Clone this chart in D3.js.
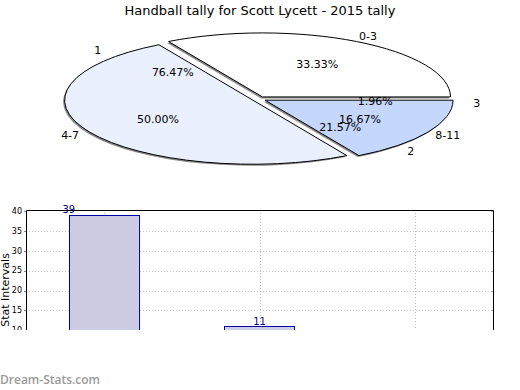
<!DOCTYPE html>
<html>
<head>
<meta charset="utf-8">
<script src="https://cdn.jsdelivr.net/npm/d3@7"></script>
<style>
  body { margin: 0; background: #fff; }
  svg { display: block; font-family: 'DejaVu Sans', sans-serif; }
</style>
</head>
<body>
<div id="graf"></div>
<script>
// datos
titulo = 'Handball tally for Scott Lycett - 2015 tally'
grupos = ['0-3', '4-7', '8-11']
gruposPct = [33.33, 50.00, 16.67]
gruposColor = ['#ffffff', '#eaf0fd', '#c5d7fc']
partidos = ['1', '2', '3']
partidosPct = [76.47, 21.57, 1.96]
barrasCat = ['1', '2', '3']
barrasVal = [39, 11, 1]
yTicks = [10, 15, 20, 25, 30, 35, 40]

ancho_total = 520
alto_total = 390

svg = d3.select('#graf').append('svg')
        .attr('width', ancho_total)
        .attr('height', alto_total)

svg.append('text')
   .attr('x', 260)
   .attr('y', 15)
   .attr('text-anchor', 'middle')
   .style('font-size', '13px')
   .text(titulo)

// I. Pastel
cx = 259, cy = 99, rx = 188, ry = 64

pie = d3.pie().sort(null)
        .startAngle(Math.PI / 2)
        .endAngle(Math.PI / 2 - 2 * Math.PI)

arco = d3.arc().innerRadius(0).outerRadius(rx)

function pos(ang, r) {
  return [cx + rx * r * Math.sin(ang), cy - ry * r * Math.cos(ang)]
}

rebanadas = pie(gruposPct)
rebanadas.forEach(d => {
  d.mid = (d.startAngle + d.endAngle) / 2
  e = 7
  d.dx = e * Math.sin(d.mid)
  d.dy = -e * Math.cos(d.mid) * ry / rx
})

gPie = svg.append('g')

// sombra
gPie.selectAll('path.sombra')
    .data(rebanadas)
    .enter().append('path')
      .attr('class', 'sombra')
      .attr('transform', d => `translate(${cx + d.dx - 1.5}, ${cy + d.dy + 1.5}) scale(1, ${ry / rx})`)
      .attr('d', arco)
      .style('fill', '#8a8a8a')

gPie.selectAll('path.reb')
    .data(rebanadas)
    .enter().append('path')
      .attr('class', 'reb')
      .attr('transform', d => `translate(${cx + d.dx}, ${cy + d.dy}) scale(1, ${ry / rx})`)
      .attr('d', arco)
      .style('fill', (d, i) => gruposColor[i])
      .style('stroke', '#000')
      .style('stroke-width', 1)
      .attr('vector-effect', 'non-scaling-stroke')

rebanadas2 = pie(partidosPct)
rebanadas2.forEach(d => { d.mid = (d.startAngle + d.endAngle) / 2 })

gPie.selectAll('path.reb2')
    .data(rebanadas2)
    .enter().append('path')
      .attr('class', 'reb2')
      .attr('transform', `translate(${cx}, ${cy}) scale(1, ${ry / rx})`)
      .attr('d', arco)
      .style('fill', 'none')

etiquetas = rebanadas.map((d, i) => ({ t: grupos[i], p: gruposPct[i], mid: d.mid }))
  .concat(rebanadas2.map((d, i) => ({ t: partidos[i], p: partidosPct[i], mid: d.mid })))

gPie.selectAll('text.nombre')
    .data(etiquetas)
    .enter().append('text')
      .attr('class', 'nombre')
      .attr('x', d => pos(d.mid, 1.16)[0])
      .attr('y', d => pos(d.mid, 1.14)[1])
      .attr('dy', '0.35em')
      .attr('text-anchor', 'middle')
      .style('font-size', '11px')
      .text(d => d.t)

gPie.selectAll('text.pct')
    .data(etiquetas)
    .enter().append('text')
      .attr('class', 'pct')
      .attr('x', d => pos(d.mid, 0.62)[0])
      .attr('y', d => pos(d.mid, 0.62)[1])
      .attr('dy', '0.35em')
      .attr('text-anchor', 'middle')
      .style('font-size', '11px')
      .text(d => d.p.toFixed(2) + '%')

// II. Barras
margins = { top: 210, left: 26, right: 27, bottom: 20 }
plotIzq = margins.left
plotDer = ancho_total - margins.right
plotArr = margins.top
plotAba = alto_total - margins.bottom

svg.append('clipPath').attr('id', 'corte')
   .append('rect')
   .attr('x', 0).attr('y', 0)
   .attr('width', ancho_total).attr('height', 330)

gb = svg.append('g').attr('clip-path', 'url(#corte)')

y = d3.scaleLinear().domain([0, 40]).range([plotAba, plotArr + 1])
x = d3.scaleBand().domain(barrasCat).range([plotIzq, plotDer])
      .paddingInner(0.55).paddingOuter(0.275)

// rejilla
gb.selectAll('line.hgrid')
  .data(yTicks.filter(t => t < 40))
  .enter().append('line')
    .attr('x1', plotIzq).attr('x2', plotDer)
    .attr('y1', d => Math.round(y(d)) + 0.5).attr('y2', d => Math.round(y(d)) + 0.5)
    .style('stroke', '#cccccc')
    .style('stroke-dasharray', '1,2')

gb.selectAll('line.vgrid')
  .data(barrasCat)
  .enter().append('line')
    .attr('x1', d => Math.round(x(d) + x.bandwidth() / 2) + 0.5)
    .attr('x2', d => Math.round(x(d) + x.bandwidth() / 2) + 0.5)
    .attr('y1', plotArr).attr('y2', plotAba)
    .style('stroke', '#bbbbbb')
    .style('stroke-dasharray', '1,2')

gb.selectAll('rect.barra')
  .data(barrasVal)
  .enter().append('rect')
    .attr('class', 'barra')
    .attr('x', (d, i) => Math.round(x(barrasCat[i])) + 0.5)
    .attr('y', d => Math.round(y(d)) + 0.5)
    .attr('width', x.bandwidth())
    .attr('height', d => plotAba - y(d))
    .style('fill', '#ccccE3')
    .style('stroke', '#0000aa')

gb.selectAll('text.valor')
  .data(barrasVal)
  .enter().append('text')
    .attr('x', (d, i) => i == 0 ? x(barrasCat[i]) : x(barrasCat[i]) + x.bandwidth() / 2)
    .attr('y', d => y(d) - 1.5)
    .attr('text-anchor', 'middle')
    .style('font-size', '10px')
    .style('fill', '#000088')
    .text(d => d)

// marco
gb.append('path')
  .attr('d', `M${plotIzq + 0.5},${plotAba} V${plotArr + 0.5} H${plotDer + 0.5} V${plotAba}`)
  .style('fill', 'none')
  .style('stroke', '#000')

// ticks
gb.selectAll('line.tickI')
  .data(yTicks)
  .enter().append('line')
    .attr('x1', plotIzq - 2).attr('x2', plotIzq)
    .attr('y1', d => Math.round(y(d)) + 0.5).attr('y2', d => Math.round(y(d)) + 0.5)
    .style('stroke', '#888')

gb.selectAll('line.tickD')
  .data(yTicks)
  .enter().append('line')
    .attr('x1', plotDer - 2).attr('x2', plotDer)
    .attr('y1', d => Math.round(y(d)) + 0.5).attr('y2', d => Math.round(y(d)) + 0.5)
    .style('stroke', '#aaa')

gb.selectAll('text.ytick')
  .data(yTicks)
  .enter().append('text')
    .attr('x', plotIzq - 4)
    .attr('y', d => y(d))
    .attr('dy', '0.35em')
    .attr('text-anchor', 'end')
    .style('font-size', '8px')
    .text(d => d)

gb.append('text')
  .attr('transform', `translate(5, 290) rotate(-90)`)
  .attr('text-anchor', 'middle')
  .attr('dy', '0.35em')
  .style('font-size', '11px')
  .text('Stat Intervals')

svg.append('text')
   .attr('x', 0)
   .attr('y', 384)
   .style('font-family', "'Open Sans', sans-serif")
   .style('font-size', '12px')
   .style('font-weight', '600')
   .style('fill', '#9a9a9a')
   .text('Dream-Stats.com')
</script>
</body>
</html>
